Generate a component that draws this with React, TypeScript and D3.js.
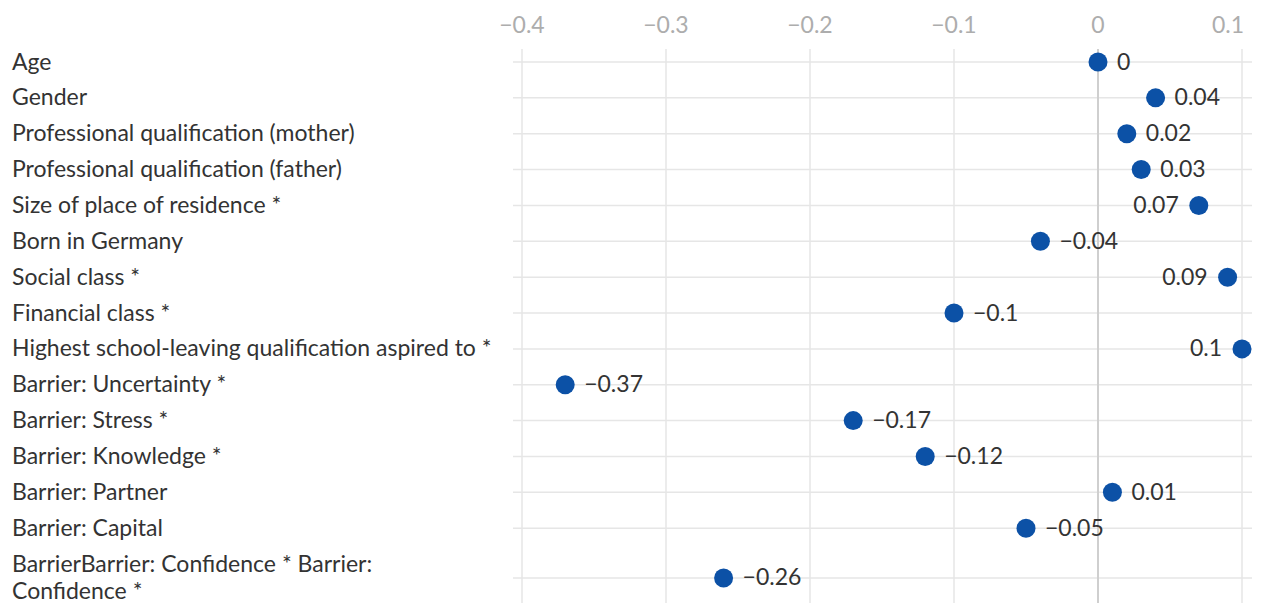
import React from "react";
import * as d3 from "d3";

const categories: string[] = [
  "Age",
  "Gender",
  "Professional qualification (mother)",
  "Professional qualification (father)",
  "Size of place of residence *",
  "Born in Germany",
  "Social class *",
  "Financial class *",
  "Highest school-leaving qualification aspired to *",
  "Barrier: Uncertainty *",
  "Barrier: Stress *",
  "Barrier: Knowledge *",
  "Barrier: Partner",
  "Barrier: Capital",
  "BarrierBarrier: Confidence * Barrier:\nConfidence *",
];

const values: number[] = [0, 0.04, 0.02, 0.03, 0.07, -0.04, 0.09, -0.1, 0.1, -0.37, -0.17, -0.12, 0.01, -0.05, -0.26];

const tickValues: number[] = [-0.4, -0.3, -0.2, -0.1, 0, 0.1];

const W = 1261;
const H = 603;
const FONT = "Lato, 'Noto Sans', sans-serif";
const DOT = "#0c51a6";
const FS = 23;

const fmt = (v: number) => {
  const s = d3.format("")(Math.round(v * 100) / 100);
  return s.replace("-", "\u2212");
};

export default function App() {
  const x = d3.scaleLinear().domain([-0.4, 0.1]).range([522, 1242]);
  const lineH = 27.86;
  const pad = 8;
  const top = 44.07;
  const lines = categories.map((c) => c.split("\n"));
  const centers: number[] = [];
  let acc = top;
  lines.forEach((ls) => {
    const h = ls.length * lineH + pad;
    centers.push(acc + h / 2);
    acc += h;
  });

  const gridLeft = 513;
  const gridRight = 1252;
  const labelLeftThreshold = 0.06;
  const textShift = -1.5;

  return (
    <svg
      width={W}
      height={H}
      style={{ position: "absolute", left: 0, top: 0, background: "#fff" }}
      fontFamily={FONT}
    >
      {tickValues.map((t, k) => {
        const last = k === tickValues.length - 1;
        return (
          <g key={"t" + t}>
            <line x1={x(t)} x2={x(t)} y1={49} y2={H} stroke="#e6e6e6" strokeWidth={1.5} />
            <text
              x={last ? x(t) + 2 : x(t)}
              y={33}
              textAnchor={last ? "end" : "middle"}
              fontSize={FS}
              fill="#adadad"
            >
              {fmt(t)}
            </text>
          </g>
        );
      })}
      {categories.map((c, i) => (
        <line
          key={"h" + i}
          x1={gridLeft}
          x2={gridRight}
          y1={centers[i]}
          y2={centers[i]}
          stroke="#e6e6e6"
          strokeWidth={1.5}
        />
      ))}
      <line x1={x(0)} x2={x(0)} y1={49} y2={H} stroke="#cfcfcf" strokeWidth={2} />
      {categories.map((c, i) => {
        const ls = lines[i];
        const y0 = centers[i] - ((ls.length - 1) * lineH) / 2 + textShift;
        return (
          <text key={"l" + i} x={12} fontSize={FS} fill="#333">
            {ls.map((l, j) => (
              <tspan key={j} x={12} y={y0 + j * lineH} dominantBaseline="central">
                {l}
              </tspan>
            ))}
          </text>
        );
      })}
      {values.map((v, i) => {
        const cx = x(v);
        const left = v > labelLeftThreshold;
        return (
          <g key={"d" + i}>
            <circle cx={cx} cy={centers[i]} r={9.5} fill={DOT} />
            <text
              x={left ? cx - 20 : cx + 19}
              y={centers[i] + textShift}
              dominantBaseline="central"
              textAnchor={left ? "end" : "start"}
              fontSize={FS}
              fill="#333"
            >
              {fmt(v)}
            </text>
          </g>
        );
      })}
    </svg>
  );
}
